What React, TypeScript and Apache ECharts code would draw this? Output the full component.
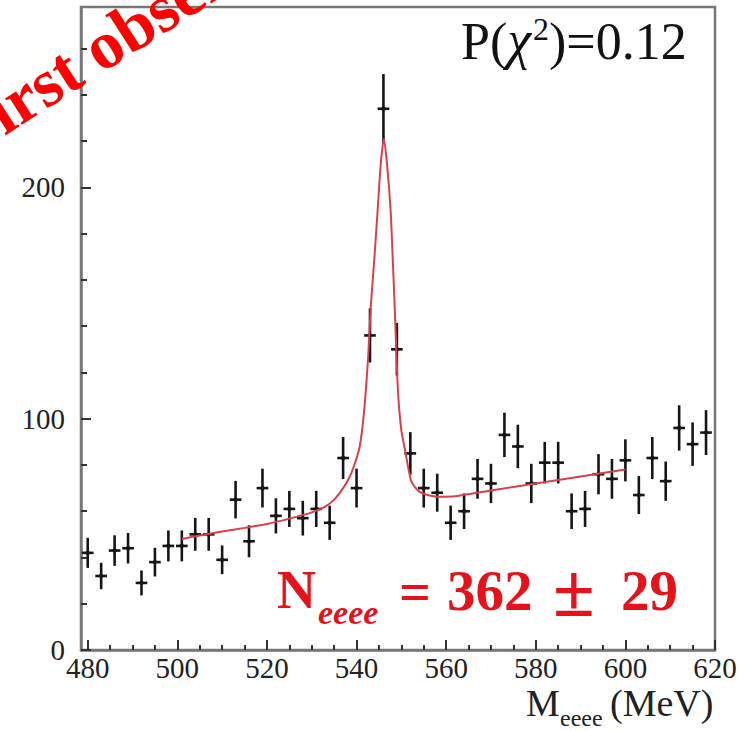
import React, { useEffect, useRef } from "react";
import * as echarts from "echarts";

// Histogram bin centres (MeV), counts and their errors
const binCenters = [480, 483, 486, 489, 492, 495, 498, 501, 504, 507, 510, 513, 516, 519, 522, 525, 528, 531, 534, 537, 540, 543, 546, 549, 552, 555, 558, 561, 564, 567, 570, 573, 576, 579, 582, 585, 588, 591, 594, 597, 600, 603, 606, 609, 612, 615, 618];
const counts = [42, 32, 43, 44, 29, 38, 45, 45, 50, 50, 39, 65, 47, 70, 58, 61, 57, 61, 55, 83, 70, 136, 234, 130, 85, 70, 68, 55, 60, 74, 72, 93, 88, 72, 81, 81, 60, 61, 76, 74, 82, 67, 83, 73, 96, 89, 94];
const countErrors = [6.5, 5.7, 6.6, 6.6, 5.4, 6.2, 6.7, 6.7, 7.1, 7.1, 6.2, 8.1, 6.9, 8.4, 7.6, 7.8, 7.5, 7.8, 7.4, 9.1, 8.4, 11.7, 15.0, 11.4, 9.2, 8.4, 8.2, 7.4, 7.7, 8.6, 8.5, 9.6, 9.4, 8.5, 9.0, 9.0, 7.7, 7.8, 8.7, 8.6, 9.1, 8.2, 9.1, 8.5, 9.8, 9.4, 9.7];

// Fit curve
const fitX = [501, 505, 510, 515, 520, 525, 530, 533, 535, 537, 538.5, 539.5, 540.6, 541.3, 541.9, 542.6, 543.2, 544, 544.7, 545.4, 546.1, 546.8, 547.6, 548.1, 548.5, 548.9, 549.3, 550, 550.8, 552.1, 553, 554, 555.5, 558, 562, 570, 580, 590, 600];
const fitY = [48, 49.5, 51.2, 52.8, 54.5, 56.8, 59.5, 62, 65, 70, 75, 80, 87, 96, 108, 127, 149, 170, 190, 210, 221, 210, 190, 168, 149, 128, 110, 95, 86.6, 73.6, 70.5, 68.5, 67.2, 66.3, 66.5, 69, 72, 75, 78];

// Axis ticks
const xMajorTicks = [480, 500, 520, 540, 560, 580, 600, 620];
const xMinorTicks = [485, 490, 495, 505, 510, 515, 525, 530, 535, 545, 550, 555, 565, 570, 575, 585, 590, 595, 605, 610, 615];
const yMajorTicks = [0, 100, 200];
const yMinorTicks = [20, 40, 60, 80, 120, 140, 160, 180, 220, 240, 260];

const SERIF = "'Liberation Serif', 'Times New Roman', serif";
const RED = "#e5121b";

export default function App() {
  const ref = useRef<HTMLDivElement>(null);

  useEffect(() => {
    if (!ref.current) return;
    const chart = echarts.init(ref.current, null, { renderer: "svg" });

    const points = binCenters.map((x, i) => [x, counts[i], countErrors[i]]);
    const fit = fitX.map((x, i) => [x, fitY[i]]);

    const xCommon = {
      type: "value" as const,
      min: 478.5,
      max: 620,
      splitLine: { show: false },
    };
    const yCommon = {
      type: "value" as const,
      min: 0,
      max: 278,
      splitLine: { show: false },
    };

    const txt = (text: string, x: number, y: number, extra: any) => ({
      type: "text",
      x,
      y,
      z: 100,
      style: {
        text,
        fontFamily: SERIF,
        align: "left",
        textAlign: "left",
        verticalAlign: "middle",
        textVerticalAlign: "middle",
        ...extra,
      },
    });

    chart.setOption({
      animation: false,
      grid: {
        left: 81,
        right: 34,
        top: 7,
        bottom: 81,
        show: true,
        borderColor: "#777",
        borderWidth: 2.5,
        backgroundColor: "transparent",
        outerBoundsMode: "none",
      },
      xAxis: [
        {
          ...xCommon,
          axisLine: { show: true, lineStyle: { color: "#777", width: 2.5 } },
          axisTick: {
            show: true,
            inside: true,
            length: 10,
            customValues: xMajorTicks,
            lineStyle: { color: "#333", width: 2 },
          },
          axisLabel: {
            customValues: xMajorTicks,
            fontFamily: SERIF,
            fontSize: 29,
            color: "#222",
            margin: 3,
          },
        },
        {
          ...xCommon,
          position: "bottom",
          axisLine: { show: false },
          axisTick: {
            show: true,
            inside: true,
            length: 5,
            customValues: xMinorTicks,
            lineStyle: { color: "#333", width: 2 },
          },
          axisLabel: { show: false },
        },
      ],
      yAxis: [
        {
          ...yCommon,
          axisLine: { show: true, lineStyle: { color: "#777", width: 2.5 } },
          axisTick: {
            show: true,
            inside: true,
            length: 10,
            customValues: yMajorTicks,
            lineStyle: { color: "#333", width: 2 },
          },
          axisLabel: {
            customValues: yMajorTicks,
            fontFamily: SERIF,
            fontSize: 29,
            color: "#222",
            margin: 16,
          },
        },
        {
          ...yCommon,
          position: "left",
          axisLine: { show: false },
          axisTick: {
            show: true,
            inside: true,
            length: 6,
            customValues: yMinorTicks,
            lineStyle: { color: "#333", width: 2 },
          },
          axisLabel: { show: false },
        },
      ],
      series: [
        {
          type: "custom",
          name: "data",
          xAxisIndex: 0,
          yAxisIndex: 0,
          z: 2,
          data: points,
          renderItem: (params: any, api: any) => {
            const x = api.value(0);
            const y = api.value(1);
            const e = api.value(2);
            const top = api.coord([x, y + e]);
            const bot = api.coord([x, y - e]);
            const l = api.coord([x - 1.3, y]);
            const r = api.coord([x + 1.3, y]);
            const c = api.coord([x, y]);
            return {
              type: "group",
              children: [
                {
                  type: "line",
                  shape: { x1: top[0], y1: top[1], x2: bot[0], y2: bot[1] },
                  style: { stroke: "#151515", lineWidth: 2.6 },
                },
                {
                  type: "line",
                  shape: { x1: l[0], y1: l[1], x2: r[0], y2: r[1] },
                  style: { stroke: "#151515", lineWidth: 2.6 },
                },
                {
                  type: "circle",
                  shape: { cx: c[0], cy: c[1], r: 2.2 },
                  style: { fill: "#151515" },
                },
              ],
            };
          },
        },
        {
          type: "line",
          name: "fit",
          xAxisIndex: 0,
          yAxisIndex: 0,
          z: 3,
          data: fit,
          smooth: 0.25,
          showSymbol: false,
          symbol: "none",
          lineStyle: { color: "#d8404e", width: 2 },
        },
      ],
      graphic: [
        {
          type: "text",
          x: 461,
          y: 13,
          z: 100,
          style: {
            text: "{a|P(}{c|χ}{s|2}{a|)=0.12}",
            fill: "#111",
            align: "left",
            textAlign: "left",
            verticalAlign: "top",
            textVerticalAlign: "top",
            rich: {
              a: { fontFamily: SERIF, fontSize: 52, fill: "#111", verticalAlign: "bottom" },
              c: { fontFamily: SERIF, fontSize: 54, fontStyle: "italic", fill: "#111", verticalAlign: "bottom", padding: [0, 2, 0, 0] },
              s: { fontFamily: SERIF, fontSize: 32, fill: "#111", verticalAlign: "top" },
            },
          },
        },
        {
          type: "text",
          x: -43,
          y: 139,
          rotation: 0.57,
          z: 100,
          style: {
            text: "First observation",
            fontFamily: SERIF,
            fontWeight: "bold",
            fontSize: 68,
            fill: "#ff0000",
            align: "left",
            textAlign: "left",
            verticalAlign: "middle",
            textVerticalAlign: "middle",
          },
        },
        txt("N", 277, 590, { fontSize: 54, fontWeight: "bold", fill: RED }),
        txt("eeee", 318, 612, { fontSize: 34, fontWeight: "bold", fontStyle: "italic", fill: RED }),
        txt("=", 399, 592, { fontSize: 56, fontWeight: "bold", fill: RED }),
        txt("362", 447, 590, { fontSize: 57, fontWeight: "bold", fill: RED }),
        txt("±", 553, 590, { fontSize: 76, fontWeight: "bold", fill: RED }),
        txt("29", 621, 590, { fontSize: 57, fontWeight: "bold", fill: RED }),
        txt("M", 526, 703, { fontSize: 38, fill: "#222" }),
        txt("eeee", 560, 718, { fontSize: 24, fill: "#222" }),
        txt("(MeV)", 610, 703, { fontSize: 38, fill: "#222" }),
      ],
    });

    return () => chart.dispose();
  }, []);

  return (
    <div
      ref={ref}
      style={{ position: "absolute", left: 0, top: 0, width: 749, height: 731, background: "#fff" }}
    />
  );
}
